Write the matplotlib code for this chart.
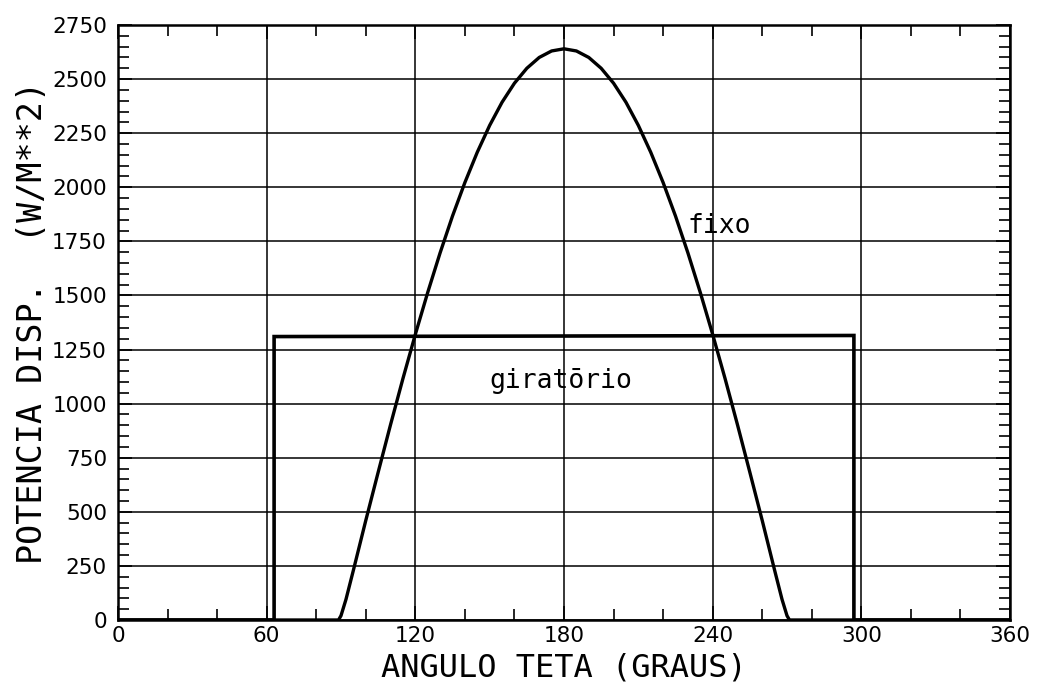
import numpy as np
import matplotlib
matplotlib.use("Agg")
import matplotlib.pyplot as plt
from matplotlib.ticker import MultipleLocator

# curva "fixo"
ang_fixo = [0, 85, 89, 90, 92, 95, 100, 105, 110, 115, 120, 125, 130, 135,
            140, 145, 150, 155, 160, 165, 170, 175, 180, 185, 190, 195, 200,
            205, 210, 215, 220, 225, 230, 235, 240, 245, 250, 255, 260, 265,
            268, 270, 271, 275, 360]
pot_fixo = [0, 0, 0, 20, 95, 230, 460, 683, 903, 1116, 1320, 1514, 1697, 1867,
            2022, 2162, 2286, 2393, 2481, 2550, 2600, 2630, 2640, 2630, 2600,
            2550, 2481, 2393, 2286, 2162, 2022, 1867, 1697, 1514, 1320, 1116,
            903, 683, 460, 230, 95, 20, 0, 0, 0]

# curva "giratorio"
ang_gir = [0, 63, 63, 297, 297, 360]
pot_gir = [0, 0, 1310, 1315, 0, 0]

xticks = [0, 60, 120, 180, 240, 300, 360]
yticks = [0, 250, 500, 750, 1000, 1250, 1500, 1750, 2000, 2250, 2500, 2750]

fig = plt.figure(figsize=(10.49, 6.93), dpi=100)
ax = fig.add_axes([118 / 1049, 1 - 620 / 693, (1010 - 118) / 1049, (620 - 25) / 693])

ax.plot(ang_fixo, pot_fixo, color="black", lw=2.4, solid_joinstyle="round")
ax.plot(ang_gir, pot_gir, color="black", lw=2.6, solid_joinstyle="miter")

ax.set_xlim(0, 360)
ax.set_ylim(0, 2750)
ax.set_xticks(xticks)
ax.set_yticks(yticks)
ax.xaxis.set_minor_locator(MultipleLocator(20))
ax.yaxis.set_minor_locator(MultipleLocator(50))
ax.grid(True, which="major", color="black", lw=1.1)
ax.tick_params(which="both", direction="in", top=True, right=True, colors="black")
ax.tick_params(which="major", length=10, width=1.2, labelsize=15.5, pad=8)
ax.tick_params(axis="x", which="major", pad=4)
ax.tick_params(which="minor", length=8, width=1.2)
for s in ax.spines.values():
    s.set_linewidth(1.8)

ax.set_xlabel("ANGULO TETA (GRAUS)", family="DejaVu Sans Mono", fontsize=23)
ax.set_ylabel("POTENCIA DISP.  (W/M**2)", family="DejaVu Sans Mono", fontsize=24)
ax.xaxis.set_label_coords(0.5, -0.054)
ax.yaxis.set_label_coords(-0.077, 0.5)

ax.text(230, 1790, "fixo", family="DejaVu Sans Mono", fontsize=19, va="baseline")
ax.text(150, 1070, "giratōrio", family="DejaVu Sans Mono", fontsize=19, va="baseline")

fig.savefig("out.png", dpi=100, facecolor="white")
